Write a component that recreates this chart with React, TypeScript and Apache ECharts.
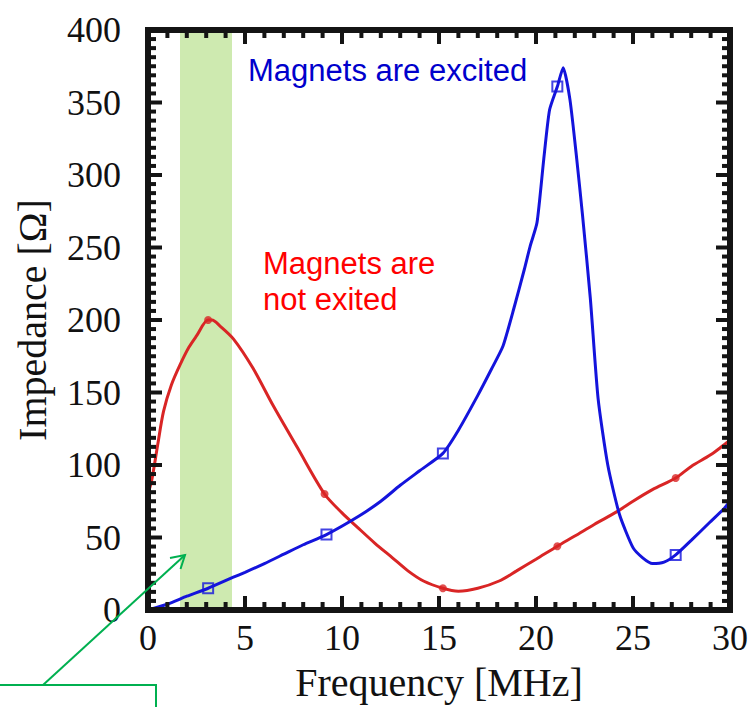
import React, { useEffect, useRef } from "react";
import * as echarts from "echarts";

// Frequency [MHz] / Impedance [Ω]
const excitedFreq = [0, 1, 2, 3.1, 4.4, 5, 6, 7, 8, 9.2, 10.9, 12, 13, 14, 15.2, 16, 17, 17.7, 18.3, 18.9, 19.4, 19.7, 20.05, 20.4, 20.7, 21.1, 21.4, 21.75, 22.1, 22.4, 22.8, 23.2, 23.7, 24.3, 25, 25.5, 26, 26.6, 27.2, 28, 29, 29.7, 30];
const excitedImp = [0, 4, 9.5, 15, 22.6, 26, 32, 38.5, 45, 52, 65, 75, 86, 96, 108, 124, 148, 166, 182, 210, 235, 251, 267, 311, 345, 361, 374, 352, 311, 272, 215, 146, 100, 66, 43, 36, 32, 33, 38, 48, 61, 70, 75];

const notExcitedFreq = [0, 0.2, 0.5, 0.8, 1.2, 1.65, 2.1, 2.5, 3.1, 3.3, 3.7, 4.4, 5.4, 6.45, 7.7, 9.1, 10, 10.8, 11.7, 12.6, 13.4, 14.2, 15.2, 16, 17, 18.1, 19, 20, 21.1, 22, 23, 24.2, 25, 26, 27.2, 28, 29, 29.7, 30];
const notExcitedImp = [80, 90, 114, 137, 155, 169, 181, 189, 200, 200, 196, 187, 167, 141, 112, 80, 67, 57, 46, 36, 27, 20, 15, 13, 15, 20, 27, 35, 44, 51, 59, 68, 75, 83, 91, 99, 107, 114, 117];

const excitedMarkFreq = [3.1, 9.2, 15.2, 21.1, 27.2];
const excitedMarkImp = [15, 52, 108, 361, 38];
const notExcitedMarkFreq = [3.1, 9.1, 15.2, 21.1, 27.2];
const notExcitedMarkImp = [200, 80, 15, 44, 91];

const bandRange = [1.65, 4.33];

// axis ticks
const xMajorTicks = [0, 5, 10, 15, 20, 25, 30];
const yMajorTicks = [0, 50, 100, 150, 200, 250, 300, 350, 400];
const xMinorSplit = 5;
const yMinorSplit = 8;

const xMin = 0, xMax = 30, xInterval = 5;
const yMin = 0, yMax = 400, yInterval = 50;

const zip = (a: number[], b: number[]) => a.map((v, i) => [v, b[i]]);

const withMinors = (majors: number[], split: number) => {
  const out: [number, boolean][] = [];
  majors.forEach((m, i) => {
    out.push([m, true]);
    if (i < majors.length - 1) {
      const step = (majors[i + 1] - m) / split;
      for (let k = 1; k < split; k++) out.push([m + k * step, false]);
    }
  });
  return out;
};

const GRID = { left: 148, right: 25, top: 30, bottom: 94 };
const W = 755, H = 707;

export default function App() {
  const ref = useRef<HTMLDivElement>(null);
  useEffect(() => {
    if (!ref.current) return;
    const chart = echarts.init(ref.current, undefined, { renderer: "svg" });
    const serif = "'Liberation Serif', 'Times New Roman', serif";
    const sans = "'Liberation Sans', Arial, sans-serif";
    const ink = "#141414";
    const MAJOR = 14, MINOR = 8, TW = 4;
    const mkAxis = (pos: string, isX: boolean, withLabel: boolean) => {
      const a: any = {
        type: "value",
        position: pos,
        min: isX ? xMin : yMin,
        max: isX ? xMax : yMax,
        interval: isX ? xInterval : yInterval,
        axisLine: { show: true, onZero: false, lineStyle: { color: ink, width: 6 } },
        axisTick: { show: false },
        minorTick: { show: false },
        splitLine: { show: false },
        minorSplitLine: { show: false },
        axisLabel: { show: withLabel, fontFamily: serif, fontSize: 36, color: "#111", margin: isX ? 10 : 27 },
      };
      if (withLabel) {
        a.name = isX ? "Frequency [MHz]" : "Impedance [Ω]";
        a.nameLocation = "middle";
        a.nameGap = isX ? 52 : 96;
        a.nameTextStyle = { fontFamily: serif, fontSize: 40, color: "#111" };
      }
      return a;
    };
    chart.setOption({
      animation: false,
      backgroundColor: "#fff",
      grid: GRID,
      xAxis: [mkAxis("bottom", true, true), mkAxis("top", true, false)],
      yAxis: [mkAxis("left", false, true), mkAxis("right", false, false)],
      series: [
        {
          type: "line",
          name: "Magnets are not exited",
          data: zip(notExcitedFreq, notExcitedImp),
          showSymbol: false,
          smooth: 0.3,
          lineStyle: { color: "#d92525", width: 3 },
          z: 3,
        },
        {
          type: "line",
          name: "Magnets are excited",
          data: zip(excitedFreq, excitedImp),
          showSymbol: false,
          smooth: 0.2,
          lineStyle: { color: "#1414dc", width: 3 },
          z: 4,
        },
        {
          type: "scatter",
          data: zip(notExcitedMarkFreq, notExcitedMarkImp),
          symbol: "circle",
          symbolSize: 8,
          itemStyle: { color: "#d92525" },
          z: 5,
        },
        {
          type: "scatter",
          data: zip(excitedMarkFreq, excitedMarkImp),
          symbol: "rect",
          symbolSize: 10,
          itemStyle: { color: "rgba(255,255,255,0)", borderColor: "#1414dc", borderWidth: 2 },
          z: 6,
        },
        {
          type: "line",
          data: [],
          silent: true,
          z: 20,
          markArea: {
            silent: true,
            itemStyle: { color: "rgba(146,208,80,0.45)" },
            data: [[{ xAxis: bandRange[0] }, { xAxis: bandRange[1] }]],
          },
        },
      ],
    });

    // frame ticks placed through the axes' own scales (with a grid-based fallback)
    const P = (x: number, y: number): number[] => {
      let p: any = null;
      try {
        p = chart.convertToPixel({ gridIndex: 0 } as any, [x, y]);
      } catch (e) {
        p = null;
      }
      if (!p || !isFinite(p[0]) || !isFinite(p[1])) {
        const pw = W - GRID.left - GRID.right;
        const ph = H - GRID.top - GRID.bottom;
        p = [
          GRID.left + ((x - xMin) / (xMax - xMin)) * pw,
          GRID.top + ph - ((y - yMin) / (yMax - yMin)) * ph,
        ];
      }
      return p;
    };
    const tick = (x1: number, y1: number, x2: number, y2: number) => ({
      type: "line",
      silent: true,
      z: 10,
      shape: { x1, y1, x2, y2 },
      style: { stroke: ink, lineWidth: TW },
    });
    const tickEls: any[] = [];
    withMinors(xMajorTicks, xMinorSplit).forEach(([v, major]) => {
      const L = major ? MAJOR : MINOR;
      const b = P(v, yMin);
      const t = P(v, yMax);
      tickEls.push(tick(b[0], b[1], b[0], b[1] - L));
      tickEls.push(tick(t[0], t[1], t[0], t[1] + L));
    });
    withMinors(yMajorTicks, yMinorSplit).forEach(([v, major]) => {
      const L = major ? MAJOR : MINOR;
      const l = P(xMin, v);
      const r = P(xMax, v);
      tickEls.push(tick(l[0], l[1], l[0] + L, l[1]));
      tickEls.push(tick(r[0], r[1], r[0] - L, r[1]));
    });
    const c0 = P(xMin, yMax);
    const c1 = P(xMax, yMin);

    chart.setOption({
      graphic: [
        {
          type: "rect",
          silent: true,
          z: 10,
          shape: { x: c0[0], y: c0[1], width: c1[0] - c0[0], height: c1[1] - c0[1] },
          style: { fill: "rgba(0,0,0,0)", stroke: ink, lineWidth: 6 },
        },
        ...tickEls,
        {
          type: "text",
          left: 248,
          top: 55,
          z: 12,
          style: { text: "Magnets are excited", fontFamily: sans, fontSize: 31, fill: "#0000cc" },
        },
        {
          type: "text",
          left: 263,
          top: 245,
          z: 12,
          style: { text: "Magnets are\nnot exited", fontFamily: sans, fontSize: 31, lineHeight: 36, fill: "#ff0000" },
        },
        {
          type: "polyline",
          shape: { points: [[0, 685], [156, 685], [156, 707]] },
          style: { stroke: "#00b050", lineWidth: 2, fill: "none" },
          z: 100,
        },
        {
          type: "line",
          shape: { x1: 43, y1: 685, x2: 185, y2: 555 },
          style: { stroke: "#00b050", lineWidth: 2 },
          z: 100,
        },
        {
          type: "polyline",
          shape: { points: [[170, 558], [185, 555], [180.5, 569]] },
          style: { stroke: "#00b050", lineWidth: 2, fill: "none" },
          z: 100,
        },
      ],
    });
    return () => chart.dispose();
  }, []);
  return (
    <div
      ref={ref}
      style={{ position: "fixed", left: 0, top: 0, width: W, height: H, background: "#fff" }}
    />
  );
}
